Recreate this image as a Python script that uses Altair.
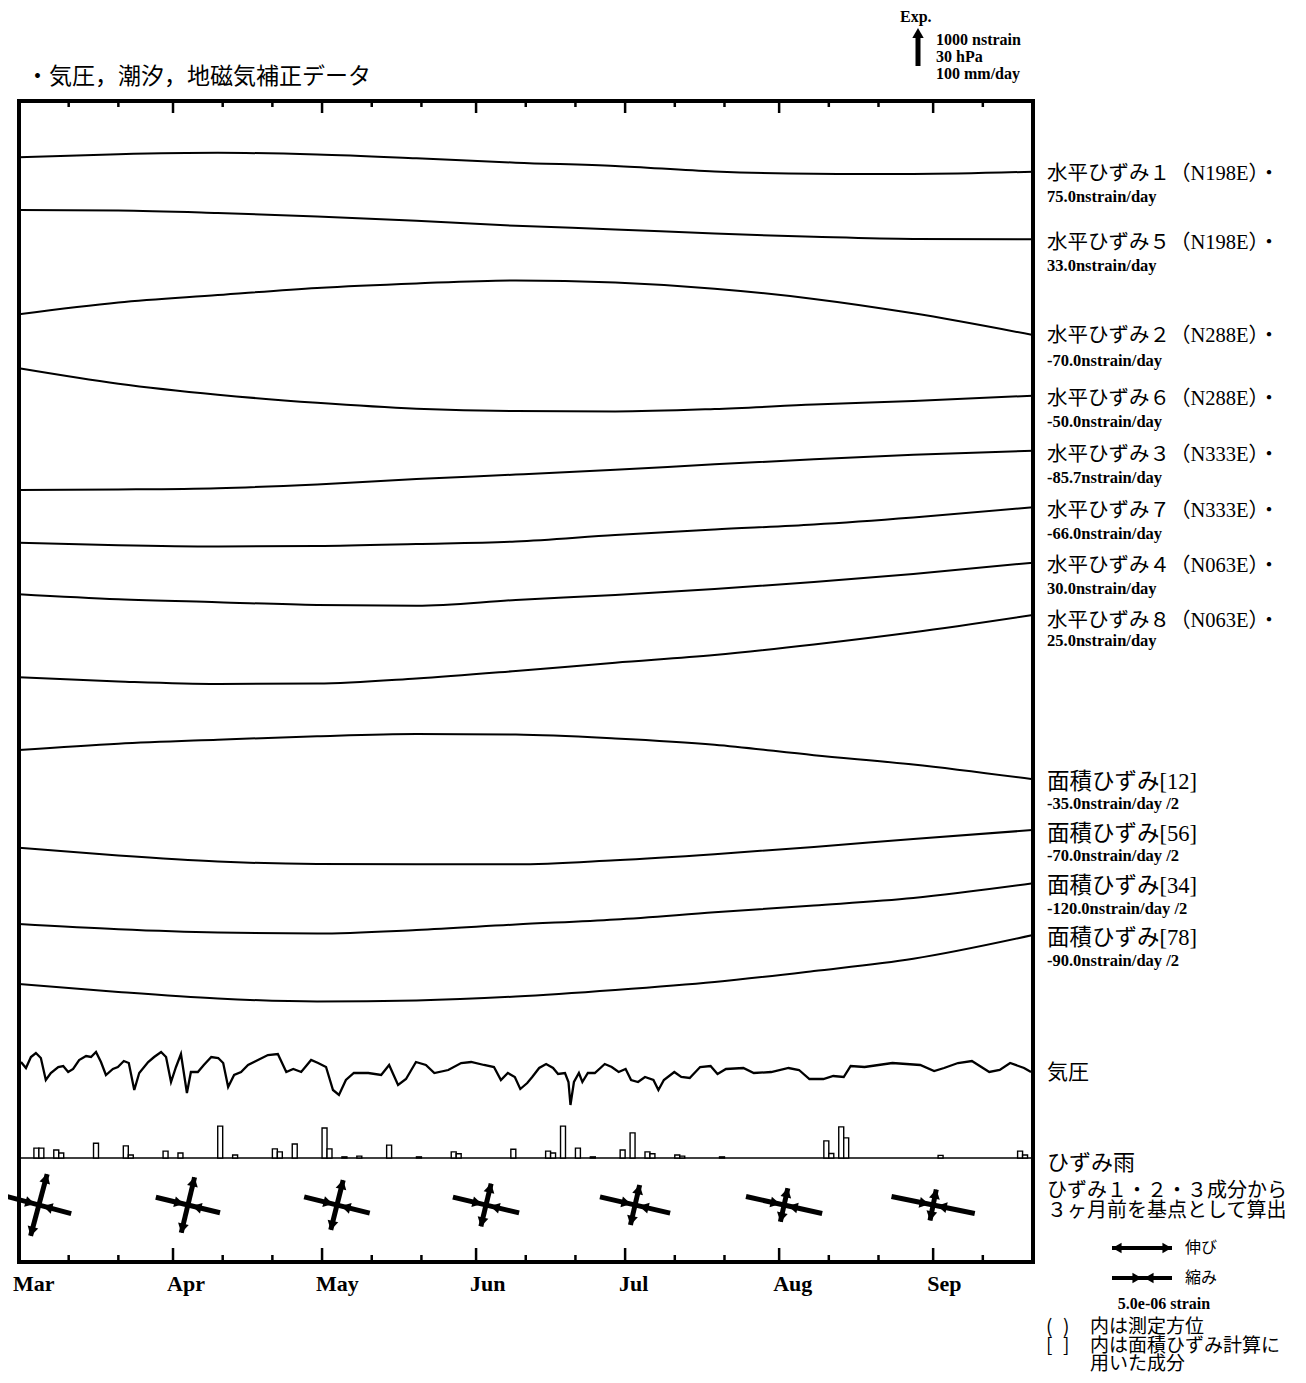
import altair as alt
import numpy as np
import pandas as pd

# ---------------- data ----------------
MONTHS = ["Mar", "Apr", "May", "Jun", "Jul", "Aug", "Sep"]
MONTH_START = [0, 31, 61, 92, 122, 153, 184]
MINOR_TICKS = [10, 20, 41, 51, 71, 81, 102, 112, 132, 142, 163, 173, 194]
DAY_END = 204.1

# smooth strain traces: level below the top of the frame (chart units)
TRACE_DAYS = [0, 20, 40, 60, 80, 100, 120, 140, 160, 180, 204.1]
H1 = [57.3, 54.2, 52.8, 54.5, 58.3, 62.7, 66.0, 71.5, 73.8, 74.0, 71.7]
H5 = [110.0, 110.5, 113.0, 116.5, 120.8, 125.8, 129.4, 133.6, 136.8, 139.0, 139.3]
H2 = [214.3, 202.5, 195.1, 187.9, 183.4, 180.5, 182.6, 188.7, 198.9, 213.3, 235.0]
H6 = [268.3, 283.7, 294.7, 302.8, 308.7, 311.1, 311.4, 309.0, 304.6, 301.0, 295.7]
H3 = [390.0, 389.5, 388.2, 384.4, 379.1, 374.6, 369.8, 364.3, 359.3, 354.8, 350.7]
H7 = [442.7, 445.3, 446.5, 446.0, 444.0, 441.5, 435.0, 429.5, 424.5, 417.5, 407.3]
H4 = [494.3, 499.3, 502.2, 505.0, 505.8, 500.0, 495.0, 489.0, 482.0, 474.0, 462.7]
H8 = [577.3, 581.5, 584.0, 583.6, 578.5, 571.0, 562.7, 555.0, 544.5, 532.3, 515.0]
A12 = [650.0, 643.7, 639.7, 636.2, 634.0, 634.6, 638.5, 644.7, 655.2, 664.5, 679.3]
A56 = [747.7, 755.5, 761.5, 764.0, 764.3, 764.3, 760.2, 754.2, 747.0, 739.0, 730.0]
A34 = [824.0, 829.2, 832.5, 833.5, 830.0, 824.5, 819.5, 812.3, 805.5, 798.0, 783.3]
A78 = [884.0, 892.0, 898.5, 901.5, 900.4, 896.5, 890.0, 882.0, 871.0, 858.7, 835.0]
TRACES = {"h1": H1, "h5": H5, "h2": H2, "h6": H6, "h3": H3, "h7": H7, "h4": H4,
          "h8": H8, "a12": A12, "a56": A56, "a34": A34, "a78": A78}

# air pressure trace (chart units)
P_DAY = [0.4, 1.4, 2.4, 3.4, 4.4, 5.4, 6.4, 7.9, 8.9, 9.9, 10.9, 12.1, 13.5, 14.5, 15.5,
         16.5, 17.5, 18.9, 19.9, 21.1, 22.1, 23.2, 24.2, 26.0, 27.2, 28.6, 29.6, 30.6,
         31.6, 32.6, 33.8, 34.6, 36.0, 37.2, 38.7, 40.1, 41.1, 42.1, 43.3, 44.7, 46.1,
         48.1, 50.1, 52.1, 53.8, 55.2, 56.8, 58.8, 60.2, 61.8, 63.2, 64.4, 65.8, 67.4,
         70.3, 72.9, 74.5, 76.3, 77.9, 79.9, 81.9, 83.6, 86.4, 89.0, 91.0, 93.6, 95.6,
         97.0, 98.4, 99.8, 100.9, 102.3, 103.3, 104.7, 106.1, 107.5, 108.5, 109.9, 110.6,
         111.0, 111.7, 112.7, 113.4, 114.5, 115.9, 117.9, 119.3, 120.7, 122.1, 123.2,
         124.6, 126.0, 127.7, 128.7, 129.8, 131.9, 133.3, 135.0, 137.1, 139.2, 140.6,
         142.3, 145.8, 147.9, 151.4, 154.9, 157.0, 159.1, 161.9, 163.9, 166.0, 167.4,
         170.2, 173.0, 175.8, 178.6, 181.4, 184.2, 186.2, 189.0, 191.8, 195.3, 197.4,
         199.5, 202.3, 203.7]
P_LEVEL = [962, 968, 957, 953, 958, 980, 973, 967, 966, 972, 969, 960, 956, 957, 952,
           962, 975, 969, 967, 961, 963, 990, 973, 962, 957, 952, 957, 982, 967, 954,
           993, 972, 972, 965, 957, 958, 963, 987, 975, 972, 965, 960, 955, 954, 972,
           969, 972, 960, 963, 967, 990, 995, 980, 973, 973, 975, 965, 985, 979, 962,
           965, 973, 970, 963, 962, 965, 967,
           980, 973, 977, 989, 983, 977, 968, 964, 968, 974, 973, 982, 1005, 982, 973,
           982, 973, 973, 964, 967, 972, 969, 980, 982, 977, 980, 990, 980, 972, 977,
           978, 967, 966, 974, 969, 968, 973, 972, 968, 970, 979, 979, 976, 977, 966,
           967, 965, 963, 964, 965, 971, 968, 963, 961, 972, 970, 963, 968, 972]

# daily rain (mm/day)
RAIN_DAY = [3, 4, 7, 8, 15, 21, 22, 29, 32, 40, 43, 51, 52, 55, 61, 62, 65, 68, 74, 80,
            87, 88, 99, 106, 107, 109, 112, 115, 121, 123, 126, 127, 132, 133, 141,
            162, 163, 165, 166, 185, 201, 202]
RAIN_MM = [26, 26, 21, 13, 39, 32, 8, 18, 13, 84, 8, 24, 16, 37, 79, 24, 3, 5, 34, 3,
           16, 11, 23, 18, 13, 84, 26, 3, 21, 66, 16, 11, 8, 5, 3,
           45, 12, 82, 53, 7, 18, 8]

# principal strain glyphs (1e-6 strain) and extension-axis angle (deg)
GLYPH_DAY = [4, 34, 64, 94, 124, 154, 184]
EXT = [5.33, 4.75, 4.29, 3.67, 3.42, 2.87, 2.62]
COMP = [5.58, 5.50, 5.63, 5.67, 6.00, 6.50, 7.08]
ANGLE = [75.0, 76.5, 76.0, 76.5, 77.0, 77.5, 78.5]

# right-hand labels
H_LABELS = ["水平ひずみ１（N198E）・", "水平ひずみ５（N198E）・", "水平ひずみ２（N288E）・",
            "水平ひずみ６（N288E）・", "水平ひずみ３（N333E）・", "水平ひずみ７（N333E）・",
            "水平ひずみ４（N063E）・", "水平ひずみ８（N063E）・"]
H_RATES = ["75.0nstrain/day", "33.0nstrain/day", "-70.0nstrain/day", "-50.0nstrain/day",
           "-85.7nstrain/day", "-66.0nstrain/day", "30.0nstrain/day", "25.0nstrain/day"]
H_LABEL_Y = [74, 143, 236, 299, 355, 411, 466, 521]
H_RATE_Y = [97, 166, 261, 322, 378, 434, 489, 541]
A_LABELS = ["面積ひずみ[12]", "面積ひずみ[56]", "面積ひずみ[34]", "面積ひずみ[78]"]
A_RATES = ["-35.0nstrain/day /2", "-70.0nstrain/day /2", "-120.0nstrain/day /2",
           "-90.0nstrain/day /2"]
A_LABEL_Y = [682, 734, 786, 838]
A_RATE_Y = [704, 756, 809, 861]

# ---------------- layout / style ----------------
W, H = 1014, 1161
OX, OY = 19, 101               # page position of the plot origin
PXD = W / DAY_END               # px per day
PX_PER_USTRAIN = 12.0           # 5.0e-06 strain = 60 px
GLYPH_LEVEL = 1105
SERIF = "Liberation Serif"
CJK = "Noto Sans CJK JP"
MIX = "Liberation Serif, Noto Sans CJK JP"

XS = alt.Scale(domain=[0, DAY_END], nice=False, zero=False)
YS = alt.Scale(domain=[1, 1162], reverse=True, nice=False, zero=False)
RAIN_S = alt.Scale(domain=[0, 100], range=[1057, 1019], nice=False)

def X(f):
    return alt.X(f, type="quantitative", scale=XS, axis=None)

def Y(f):
    return alt.Y(f, type="quantitative", scale=YS, axis=None)

# traces
rows = []
for name, vals in TRACES.items():
    for d, v in zip(TRACE_DAYS, vals):
        rows.append({"series": name, "day": d, "lvl": v})
tr = pd.DataFrame(rows)
traces = alt.Chart(tr).mark_line(color="black", strokeWidth=2, interpolate="monotone").encode(
    x=X("day"), y=Y("lvl"), detail="series:N")

pres = alt.Chart(pd.DataFrame({"day": P_DAY, "lvl": P_LEVEL})).mark_line(
    color="black", strokeWidth=2.3).encode(x=X("day"), y=Y("lvl"))

rain_df = pd.DataFrame({"day": RAIN_DAY, "mm": RAIN_MM})
rain_df["end"] = rain_df["day"] + 1
rain_base = alt.Chart(pd.DataFrame({"z": [0]})).mark_rule(color="black", strokeWidth=1.5).encode(
    x=alt.value(0), x2=alt.value(W), y=alt.Y("z:Q", scale=RAIN_S, axis=None))
rain = alt.Chart(rain_df).mark_rect(fill="white", stroke="black", strokeWidth=1.4).encode(
    x=X("day"), x2="end:Q", y=alt.Y("mm:Q", scale=RAIN_S, axis=None), y2=alt.datum(0))

# ticks on top and bottom edges
tk = []
for d in MONTH_START[1:]:
    tk.append({"day": d, "a": 1, "b": 13})
    tk.append({"day": d, "a": 1162, "b": 1148})
for d in MINOR_TICKS:
    tk.append({"day": d, "a": 1, "b": 7})
    tk.append({"day": d, "a": 1162, "b": 1155})
ticks = alt.Chart(pd.DataFrame(tk)).mark_rule(color="black", strokeWidth=2.5).encode(
    x=X("day"), y=Y("a"), y2="b:Q")

months = alt.Chart(pd.DataFrame({"day": MONTH_START, "m": MONTHS})).mark_text(
    align="left", baseline="middle", dx=-6, font=SERIF, fontSize=22, fontWeight="bold",
    color="black").encode(x=X("day"), y=alt.value(H + 22), text="m:N")

# strain glyphs
segs, heads = [], []
for d, e, c, a in zip(GLYPH_DAY, EXT, COMP, ANGLE):
    p = np.radians(a)
    ux, uy = np.cos(p), -np.sin(p)
    vx, vy = np.sin(p), np.cos(p)
    le = e * PX_PER_USTRAIN / 2
    lc = c * PX_PER_USTRAIN / 2
    def pt(dx, dy):
        return d + dx / PXD, GLYPH_LEVEL + dy
    x1, y1 = pt(-le * ux, -le * uy); x2, y2 = pt(le * ux, le * uy)
    segs.append({"x": x1, "y": y1, "x2": x2, "y2": y2})
    x1, y1 = pt(-lc * vx, -lc * vy); x2, y2 = pt(lc * vx, lc * vy)
    segs.append({"x": x1, "y": y1, "x2": x2, "y2": y2})
    r = le - 4.5
    hx, hy = pt(r * ux, r * uy); heads.append({"x": hx, "y": hy, "ang": 90 - a})
    hx, hy = pt(-r * ux, -r * uy); heads.append({"x": hx, "y": hy, "ang": 270 - a})
    hx, hy = pt(-9 * vx, -9 * vy); heads.append({"x": hx, "y": hy, "ang": 180 - a})
    hx, hy = pt(9 * vx, 9 * vy); heads.append({"x": hx, "y": hy, "ang": 360 - a})
g_lines = alt.Chart(pd.DataFrame(segs)).mark_rule(color="black", strokeWidth=5, strokeCap="butt").encode(
    x=X("x"), y=Y("y"), x2="x2:Q", y2="y2:Q")
g_heads = alt.Chart(pd.DataFrame(heads)).mark_point(
    shape="triangle-up", filled=True, color="black", opacity=1, size=120, strokeWidth=0).encode(
    x=X("x"), y=Y("y"), angle=alt.Angle("ang:Q", scale=None))

# right-hand labels
hl = pd.DataFrame({"t": H_LABELS, "r": H_RATES, "ly": H_LABEL_Y, "ry": H_RATE_Y})
al = pd.DataFrame({"t": A_LABELS, "r": A_RATES, "ly": A_LABEL_Y, "ry": A_RATE_Y})
lab_x = alt.value(1047 - OX)
h_lab = alt.Chart(hl).mark_text(align="left", baseline="middle", font=MIX, fontSize=20.5,
                                color="black").encode(x=lab_x, y=Y("ly"), text="t:N")
h_rate = alt.Chart(hl).mark_text(align="left", baseline="middle", font=SERIF, fontSize=16.5,
                                 fontWeight="bold", color="black").encode(x=lab_x, y=Y("ry"), text="r:N")
a_lab = alt.Chart(al).mark_text(align="left", baseline="middle", font=MIX, fontSize=22.5,
                                color="black").encode(x=lab_x, y=Y("ly"), text="t:N")
a_rate = alt.Chart(al).mark_text(align="left", baseline="middle", font=SERIF, fontSize=16.5,
                                 fontWeight="bold", color="black").encode(x=lab_x, y=Y("ry"), text="r:N")

def txt(text, x, y, size, font=CJK, weight="normal", align="left"):
    return alt.Chart(pd.DataFrame({"t": [text]})).mark_text(
        align=align, baseline="middle", font=font, fontSize=size, fontWeight=weight,
        color="black").encode(x=alt.value(x - OX), y=alt.value(y - OY), text="t:N")

def rule(x1, y1, x2, y2, w=5):
    return alt.Chart(pd.DataFrame({"z": [0]})).mark_rule(
        color="black", strokeWidth=w, strokeCap="butt").encode(
        x=alt.value(x1 - OX), y=alt.value(y1 - OY), x2=alt.value(x2 - OX), y2=alt.value(y2 - OY))

def head(x, y, ang, size=120):
    return alt.Chart(pd.DataFrame({"z": [0]})).mark_point(
        shape="triangle-up", filled=True, color="black", opacity=1, size=size, strokeWidth=0).encode(
        x=alt.value(x - OX), y=alt.value(y - OY), angle=alt.value(ang))

texts = [
    txt("・気圧，潮汐，地磁気補正データ", 26, 77, 23),
    txt("Exp.", 900, 17, 16, SERIF, "bold"),
    txt("1000 nstrain", 936, 40, 16, SERIF, "bold"),
    txt("30 hPa", 936, 57, 16, SERIF, "bold"),
    txt("100 mm/day", 936, 74, 16, SERIF, "bold"),
    txt("気圧", 1047, 1073, 21),
    txt("ひずみ雨", 1047, 1163, 22),
    txt("ひずみ１・２・３成分から", 1047, 1191, 20),
    txt("３ヶ月前を基点として算出", 1047, 1211, 20),
    txt("伸び", 1185, 1248, 16),
    txt("縮み", 1185, 1278, 16),
    txt("5.0e-06 strain", 1164, 1304, 16, SERIF, "bold", "center"),
    txt("(", 1046, 1327, 19),
    txt(")", 1063, 1327, 19),
    txt("内は測定方位", 1090, 1327, 19),
    txt("[", 1046, 1346, 19),
    txt("]", 1063, 1346, 19),
    txt("内は面積ひずみ計算に", 1090, 1346, 19),
    txt("用いた成分", 1090, 1364, 19),
]
decor = [
    rule(918, 66, 918, 37), head(918, 33, 0, 130),
    rule(1112, 1248, 1172, 1248, 4), head(1117, 1248, 270, 110), head(1167, 1248, 90, 110),
    rule(1112, 1278, 1172, 1278, 4), head(1137, 1278, 90, 110), head(1149, 1278, 270, 110),
]

chart = alt.layer(
    traces, pres, rain_base, rain, ticks, g_lines, g_heads, months,
    h_lab, h_rate, a_lab, a_rate, *texts, *decor
).resolve_scale(y="independent").properties(
    width=W, height=H,
    padding={"left": OX - 8, "top": OY - 8, "right": 1290 - (OX - 8) - W, "bottom": 1367 - (OY - 8) - H},
    autosize=alt.AutoSizeParams(type="none"),
    background="white",
).configure_view(stroke="black", strokeWidth=4)

chart.save("out.html", embed_options={"renderer": "svg", "actions": False})
